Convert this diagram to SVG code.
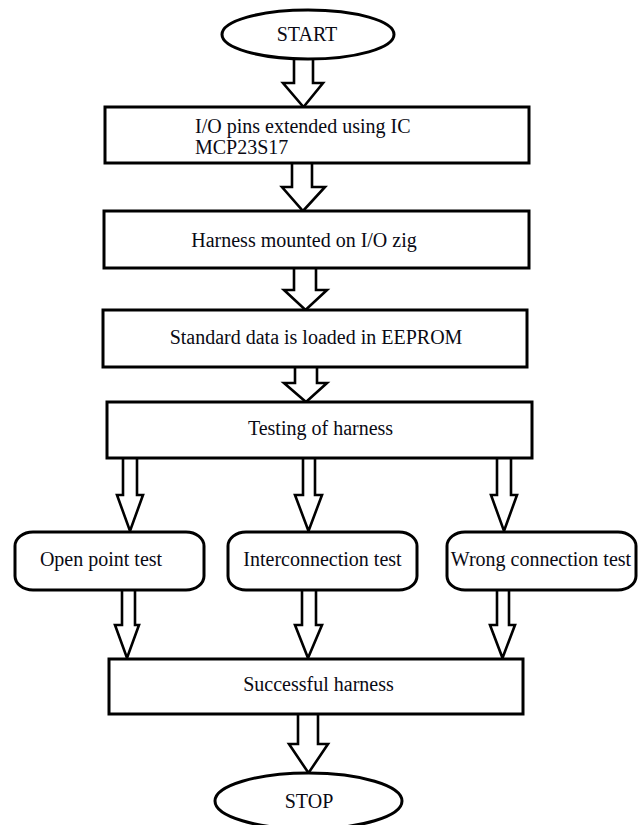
<svg xmlns="http://www.w3.org/2000/svg" width="641" height="825" viewBox="0 0 641 825">
<style>
.shape{fill:#fff;stroke:#000;stroke-width:3}
.arrow{fill:#fff;stroke:#000;stroke-width:2.6;stroke-linejoin:miter}
text{font-family:"Liberation Serif","Times New Roman",serif;font-size:20px;fill:#0a0a14}
.c{text-anchor:middle}
</style>
<rect width="641" height="825" fill="#fff"/>
<g id="connectors">
<path class="arrow" d="M294,58 V83 H283 L303.5,107 L323,83 H313 V58"/>
<path class="arrow" d="M292,163 V187 H282 L303,211 L325,187 H312 V163"/>
<path class="arrow" d="M294,268 V290 H284 L305.5,310 L327,290 H316 V268"/>
<path class="arrow" d="M295,367 V383 H284 L306,402 L327,383 H317 V367"/>
<path class="arrow" d="M123,458 V495 H117 L130,531 L143,495 H137 V458"/>
<path class="arrow" d="M303,458 V495 H295 L308.5,531 L322,495 H315 V458"/>
<path class="arrow" d="M497,458 V495 H491 L504,531 L517,495 H511 V458"/>
<path class="arrow" d="M122,590 V625 H115 L127,658 L139,625 H135 V590"/>
<path class="arrow" d="M302,590 V625 H295 L308,658 L322,625 H316 V590"/>
<path class="arrow" d="M497,590 V625 H490 L502.5,658 L515,625 H509 V590"/>
<path class="arrow" d="M298,714 V744 H289 L308.5,773 L328,744 H318 V714"/>
</g>
<g id="start">
<ellipse class="shape" cx="308" cy="34.5" rx="86" ry="24.5"/>
<text class="c" x="307" y="41">START</text>
</g>
<g id="io-pins">
<rect class="shape" x="105" y="107" width="424" height="56"/>
<text x="195" y="133">I/O pins extended using IC</text>
<text x="195" y="154">MCP23S17</text>
</g>
<g id="harness-mounted">
<rect class="shape" x="104" y="211" width="425" height="57"/>
<text class="c" x="304" y="247">Harness mounted on I/O zig</text>
</g>
<g id="standard-data">
<rect class="shape" x="103" y="310" width="424" height="57"/>
<text class="c" x="316" y="344">Standard data is loaded in EEPROM</text>
</g>
<g id="testing">
<rect class="shape" x="107" y="402" width="425" height="56"/>
<text class="c" x="320.5" y="435">Testing of harness</text>
</g>
<g id="open-point">
<rect class="shape" x="15" y="532" width="189" height="58" rx="18" ry="14"/>
<text class="c" x="101" y="566">Open point test</text>
</g>
<g id="interconnection">
<rect class="shape" x="228" y="532" width="189" height="58" rx="18" ry="14"/>
<text class="c" x="322.5" y="566">Interconnection test</text>
</g>
<g id="wrong-connection">
<rect class="shape" x="447" y="532" width="189" height="58" rx="18" ry="14"/>
<text class="c" x="541" y="566">Wrong connection test</text>
</g>
<g id="successful">
<rect class="shape" x="109" y="659" width="414" height="55"/>
<text class="c" x="318.5" y="691">Successful harness</text>
</g>
<g id="stop">
<ellipse class="shape" cx="308.5" cy="801" rx="93.5" ry="28"/>
<text class="c" x="309" y="808">STOP</text>
</g>
</svg>
